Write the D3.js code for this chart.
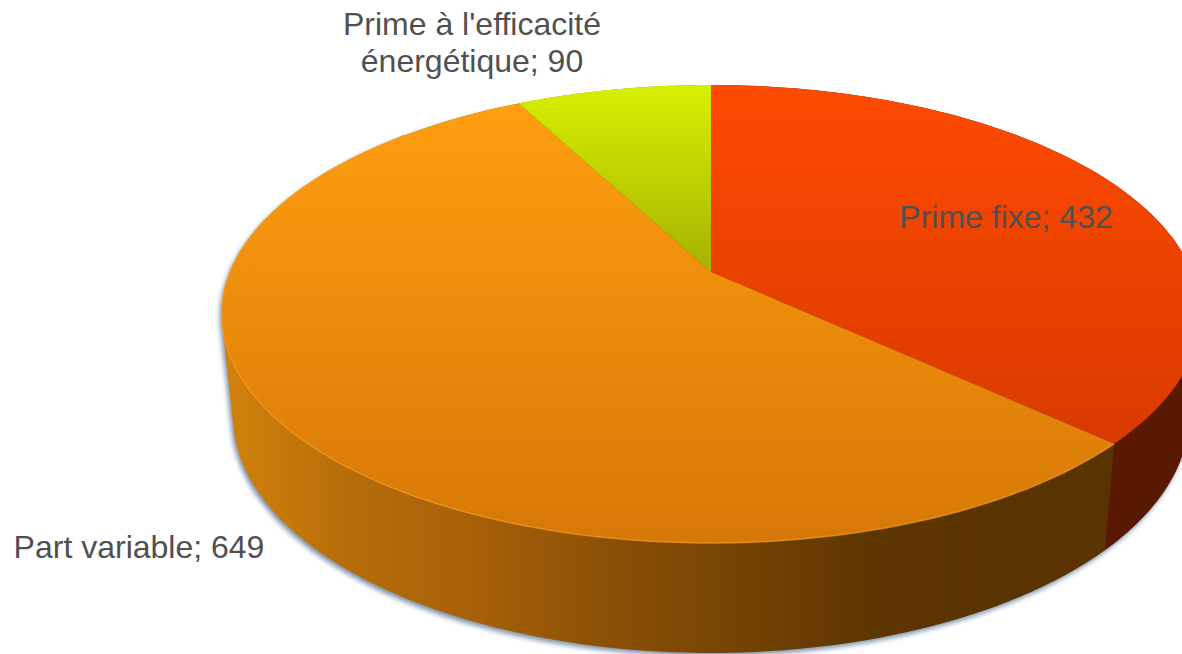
<!DOCTYPE html>
<html lang="fr">

<head>
    <meta charset="UTF-8">
    <title>Prime</title>
    <script src="https://cdn.jsdelivr.net/npm/d3@7"></script>
    <style>
        html, body { margin: 0; padding: 0; background: #fff; overflow: hidden; }
        svg { display: block; }
        text { font-family: "Liberation Sans", Arial, sans-serif; font-size: 32px; fill: #505050; }
    </style>
</head>

<body>
    <svg></svg>
</body>
<script>
    const width = 1182;
    const height = 654;

    const categories = ['Prime fixe', 'Part variable', "Prime à l'efficacité énergétique"];
    const values = [432, 649, 90];

    const topColors = [['#ff4a00', '#d93a00'], ['#ff9e10', '#d67807'], ['#d8f000', '#a6b200']];
    const sideColors = [
        ['#601b00', '#591900'],
        ['#d2820b', '#b56c09', '#a56007', '#8a4f05', '#744303', '#5e3600', '#593300'],
        ['#8a9500', '#8a9500']
    ];

    // perspective: the disc is a unit circle seen through a homography
    const persp = -0.1834;
    const cx = 711;
    const topDisc = { r: 481, a: 171.4, b: 272 };
    const bottomDisc = { r: 470, a: 160.7, b: 372.5 };

    const project = (disc, t) => {
        const u = Math.sin(t), v = -Math.cos(t), w = 1 + persp * v;
        return [cx + disc.r * u / w, (disc.a * v + disc.b) / w];
    };

    const arcs = d3.pie().sort(null)(values);
    const rim = (disc, d) => d3.range(0, 121).map(i => project(disc, d.startAngle + (d.endAngle - d.startAngle) * i / 120));
    const line = d3.line();
    // wall outline: hull of both rims, so the silhouette runs tangent from top to bottom
    const wall = d => d3.polygonHull(rim(topDisc, d).concat(rim(bottomDisc, d)));

    const svg = d3.select('svg').attr('width', width).attr('height', height);
    const defs = svg.append('defs');

    // vertical gradients on top, horizontal gradients on the side wall
    arcs.forEach((d, i) => {
        const pts = rim(topDisc, d).concat([[cx, topDisc.b]]);
        const top = defs.append('linearGradient').attr('id', `top${i}`)
            .attr('gradientUnits', 'userSpaceOnUse')
            .attr('x1', 0).attr('x2', 0)
            .attr('y1', d3.min(pts, p => p[1])).attr('y2', d3.max(pts, p => p[1]));
        topColors[i].forEach((c, j) => top.append('stop').attr('offset', j).attr('stop-color', c));

        const side = defs.append('linearGradient').attr('id', `side${i}`)
            .attr('gradientUnits', 'userSpaceOnUse')
            .attr('x1', 225).attr('x2', 1000).attr('y1', 0).attr('y2', 0);
        sideColors[i].forEach((c, j, a) => side.append('stop')
            .attr('offset', j / (a.length - 1)).attr('stop-color', c));
    });

    defs.append('filter').attr('id', 'soft')
        .attr('x', '-5%').attr('y', '-5%').attr('width', '110%').attr('height', '110%')
        .append('feGaussianBlur').attr('stdDeviation', 2.5);

    // soft blue-grey shadow under the wall
    svg.append('path')
        .attr('d', line(d3.polygonHull(d3.range(0, 241).map(i => project(bottomDisc, i / 240 * 2 * Math.PI))
            .concat(rim(topDisc, arcs[1])))) + 'Z')
        .attr('transform', 'translate(-2, 3)')
        .attr('fill', '#6f86a3')
        .attr('opacity', 0.9)
        .attr('filter', 'url(#soft)');

    // side walls, back to front: the part variable wall overlaps the hull of the others
    svg.append('g').selectAll('path')
        .data([arcs[2], arcs[0], arcs[1]])
        .join('path')
        .attr('d', d => line(wall(d)) + 'Z')
        .attr('fill', d => `url(#side${d.index})`);

    // top slices
    svg.append('g').selectAll('path')
        .data(arcs)
        .join('path')
        .attr('d', d => line(rim(topDisc, d).concat([[cx, topDisc.b]])) + 'Z')
        .attr('fill', (d, i) => `url(#top${i})`);

    // light bevel along the front edge
    svg.append('path')
        .attr('d', line(rim(topDisc, arcs[1]).slice(0, 110)))
        .attr('fill', 'none')
        .attr('stroke', '#f59d22')
        .attr('stroke-opacity', 0.7)
        .attr('stroke-width', 1.5);

    // labels
    const labelLines = [
        [`${categories[0]}; ${values[0]}`],
        [`${categories[1]}; ${values[1]}`],
        ["Prime à l'efficacité", `énergétique; ${values[2]}`]
    ];
    const labelAt = [[1006, 228], [139, 558], [472, 35]];

    svg.append('g').selectAll('text')
        .data(labelLines)
        .join('text')
        .attr('text-anchor', 'middle')
        .attr('transform', (d, i) => `translate(${labelAt[i]})`)
        .selectAll('tspan')
        .data(d => d)
        .join('tspan')
        .attr('x', 0)
        .attr('y', (d, i) => i * 37)
        .text(d => d);
</script>

</html>
